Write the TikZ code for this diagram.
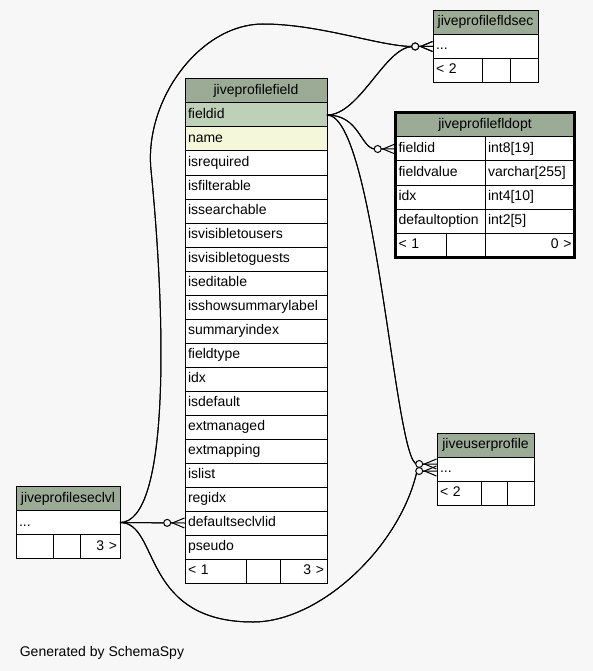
\documentclass[tikz,border=0pt]{standalone}
\usepackage{fontspec}
\setmainfont{Liberation Sans}
\usetikzlibrary{arrows.meta,positioning}
\definecolor{BgGray}{HTML}{F7F7F7}
\definecolor{HeadGray}{HTML}{9CAB96}
\definecolor{KeyGreen}{HTML}{BED1B8}
\definecolor{IdxYellow}{HTML}{F4F7DA}
\tikzset{
  tbcell/.style={draw, fill=white, outer sep=0pt, inner xsep=3pt, inner ysep=0pt, minimum height=24pt, text height=10pt, text depth=3pt, align=left, font=\fontsize{14}{16}\selectfont},
  tbhead/.style={tbcell, fill=HeadGray, align=center},
  tbright/.style={tbcell, align=right},
  fklink/.style={preaction={draw,-}, -{Circle[length=8pt,width=8pt,fill=BgGray] Straight Barb[reversed,length=12pt,width=10pt]}}
}

\begin{document}
\begin{tikzpicture}[x=1pt, y=-1pt, line width=1pt]
  \fill[BgGray] (0,0) rectangle (593,671);

  % jiveprofilefield
  \node[tbhead, text width=136pt, anchor=north west] (pfhead) at (185,79) {jiveprofilefield};
  \node[tbcell, fill=KeyGreen, text width=136pt, below=0pt of pfhead] (pf1) {fieldid};
  \node[tbcell, fill=IdxYellow, text width=136pt, below=0pt of pf1] (pf2) {name};
  \foreach \col [count=\i from 3, remember=\i as \j (initially 2)] in {isrequired,isfilterable,issearchable,isvisibletousers,isvisibletoguests,iseditable,isshowsummarylabel,summaryindex,fieldtype,idx,isdefault,extmanaged,extmapping,islist,regidx,defaultseclvlid,pseudo} {
    \node[tbcell, text width=136pt, below=0pt of pf\j] (pf\i) {\col};
  }
  \node[tbcell, text width=55.7pt, anchor=north west] (pfl) at (pf19.south west) {< 1};
  \node[tbcell, text width=27.3pt, right=0pt of pfl] (pfm) {};
  \node[tbright, text width=41pt, right=0pt of pfm] (pfr) {3 >};

  % jiveprofilefldsec
  \node[tbhead, text width=99pt, anchor=north west] (sechead) at (433,10.5) {jiveprofilefldsec};
  \node[tbcell, text width=99pt, below=0pt of sechead] (secdots) {...};
  \node[tbcell, text width=43pt, anchor=north west] (secl) at (secdots.south west) {< 2};
  \node[tbcell, text width=22pt, right=0pt of secl] (secm) {};
  \node[tbcell, text width=22pt, right=0pt of secm] (secr) {};

  % jiveprofilefldopt
  \node[tbhead, text width=173pt, anchor=north west, alias=oc0] (ohead) at (395.5,113) {jiveprofilefldopt};
  \foreach \c/\t [count=\i, remember=\i as \j (initially 0)] in {fieldid/int8[19],fieldvalue/varchar[255],idx/int4[10],defaultoption/int2[5]} {
    \node[tbcell, text width=83.5pt, anchor=north west] (oc\i) at (oc\j.south west) {\c};
    \node[tbcell, text width=83.5pt, right=0pt of oc\i] (ot\i) {\t};
  }
  \node[tbcell, text width=44.5pt, anchor=north west] (ofl) at (oc4.south west) {< 1};
  \node[tbcell, text width=33pt, right=0pt of ofl] (ofm) {};
  \node[tbright, text width=83.5pt, right=0pt of ofm] (ofr) {0 >};
  \draw[line width=3pt] (ohead.north west) rectangle (ofr.south east);

  % jiveuserprofile
  \node[tbhead, text width=91pt, anchor=north west] (uphead) at (437,433) {jiveuserprofile};
  \node[tbcell, text width=91pt, below=0pt of uphead] (updots) {...};
  \node[tbcell, text width=38.5pt, anchor=north west] (upl) at (updots.south west) {< 2};
  \node[tbcell, text width=19.5pt, right=0pt of upl] (upm) {};
  \node[tbcell, text width=21pt, right=0pt of upm] (upr) {};

  % jiveprofileseclvl
  \node[tbhead, text width=98pt, anchor=north west] (lvlhead) at (16,486.5) {jiveprofileseclvl};
  \node[tbcell, text width=98pt, below=0pt of lvlhead] (lvldots) {...};
  \node[tbcell, text width=31pt, anchor=north west] (lvll) at (lvldots.south west) {};
  \node[tbcell, text width=21pt, right=0pt of lvll] (lvlm) {};
  \node[tbright, text width=34pt, right=0pt of lvlm] (lvlr) {3 >};

  \node[anchor=base west, font=\fontsize{14}{16}\selectfont] (credit) at (16,656) {Generated by SchemaSpy};

  % relationships
  \coordinate (lvldip) at (253,622);
  \coordinate (lvlbend) at (151,170);
  \coordinate (lvltop) at (263,24);
  \draw[fklink] (pf1.east) .. controls +(33,0) and +(-28,0) .. ([xshift=-20pt]secdots.west) -- (secdots.west);
  \draw[fklink] (pf1.east) .. controls +(33,0) and +(-15,0) .. ([xshift=-20pt]oc1.west) -- (oc1.west);
  \draw[fklink] (pf1.east) .. controls +(48,0) and +(-22,0) .. ([xshift=-20pt,yshift=5pt]updots.west) -- ([yshift=5pt]updots.west);
  \draw[fklink] (lvldots.east) .. controls +(40,0) and +(-113,0) .. (lvldip) .. controls +(67,0) and +(-17,76) .. ([xshift=-20pt,yshift=-2pt]updots.west) -- ([yshift=-2pt]updots.west);
  \draw[fklink] (lvldots.east) -- (pf18.west);
  \draw[fklink] (lvldots.east) .. controls +(50,0) and +(15,150) .. (lvlbend) .. controls +(-7,-70) and +(-63,0) .. (lvltop) .. controls +(57,0) and +(-33,0) .. ([xshift=-20pt]secdots.west) -- (secdots.west);
\end{tikzpicture}
\end{document}
